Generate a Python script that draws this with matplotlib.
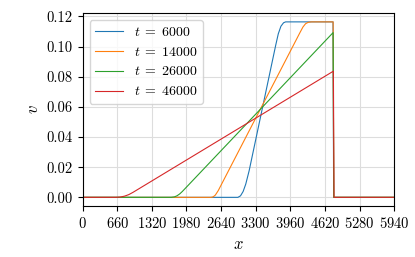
import matplotlib
matplotlib.use("Agg")
import matplotlib.pyplot as plt

plt.rcParams['font.family'] = 'serif'
plt.rcParams['font.serif'] = ['cmr10']
plt.rcParams['mathtext.fontset'] = 'cm'
plt.rcParams['axes.unicode_minus'] = False
plt.rcParams['axes.formatter.use_mathtext'] = True

times = [6000, 14000, 26000, 46000]
colors = ['#1f77b4', '#ff7f0e', '#2ca02c', '#d62728']

# values
x_6000 = [0, 2960, 3010, 3060, 3110, 3174, 3680, 3730, 3780, 3830, 3870, 4773, 4785, 5940]
v_6000 = [0, 0, 0.001, 0.0039, 0.0088, 0.0176, 0.1008, 0.1085, 0.1135, 0.1158, 0.1164, 0.1164, 0, 0]

x_14000 = [0, 2450, 2490, 2530, 2586, 4140, 4200, 4250, 4300, 4360, 4775, 4787, 5940]
v_14000 = [0, 0, 0.00036, 0.0015, 0.0045, 0.1091, 0.1130, 0.1152, 0.1161, 0.1164, 0.1164, 0, 0]

x_26000 = [0, 1690, 1750, 1800, 1850, 1900, 4775, 4787, 5940]
v_26000 = [0, 0, 0.0003, 0.00105, 0.00223, 0.00385, 0.1093, 0, 0]

x_46000 = [0, 640, 720, 800, 880, 960, 4780, 4792, 5940]
v_46000 = [0, 0, 0.0002, 0.0008, 0.0018, 0.0033, 0.0837, 0, 0]

xs = [x_6000, x_14000, x_26000, x_46000]
vs = [v_6000, v_14000, v_26000, v_46000]

fig = plt.figure(figsize=(4.15, 2.57), dpi=100)
ax = fig.add_axes([0.199, 0.198, 0.751, 0.751])

for t, x, v, c in zip(times, xs, vs, colors):
    ax.plot(x, v, color=c, lw=0.8, label=r'$t\;=\;%d$' % t)

ax.set_xlim(0, 5940)
ax.set_xticks(range(0, 5941, 660))
ax.set_yticks([0, 0.02, 0.04, 0.06, 0.08, 0.10, 0.12])
ax.set_yticklabels(['0.00', '0.02', '0.04', '0.06', '0.08', '0.10', '0.12'])
ax.tick_params(labelsize=10.5, length=3.5, width=0.8)
ax.grid(True, color='#dddddd', lw=0.8)
ax.set_axisbelow(True)
ax.set_xlabel(r'$x$', fontsize=12)
ax.set_ylabel(r'$v$', fontsize=12)
ax.legend(loc='upper left', fontsize=10, framealpha=0.8, edgecolor='#cccccc')

fig.savefig('out.png', dpi=100)
